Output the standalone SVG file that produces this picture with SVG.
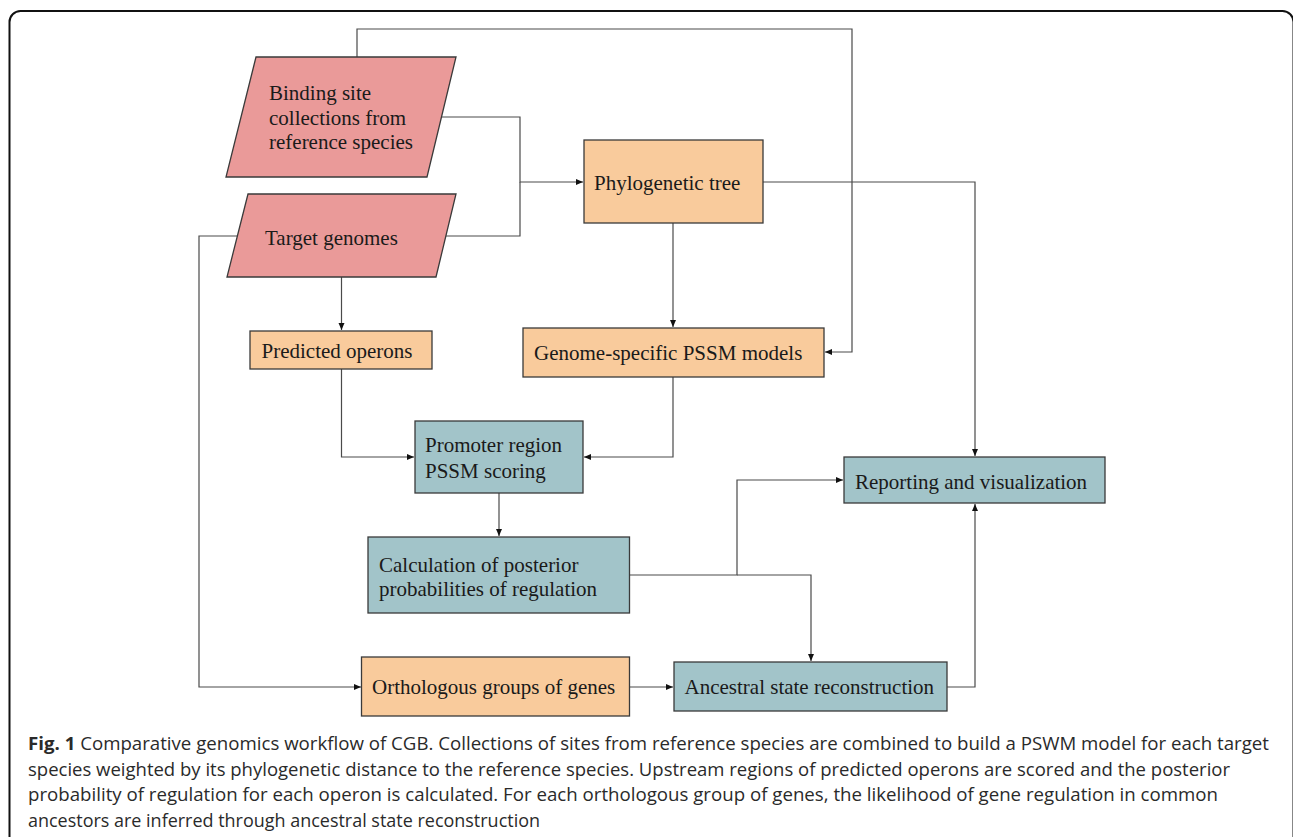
<svg xmlns="http://www.w3.org/2000/svg" width="1293" height="837" viewBox="0 0 1293 837">
<style>
.pink{fill:#EA9A99;stroke:#3a3a3a;stroke-width:1.3}
.orange{fill:#F9CB9C;stroke:#3a3a3a;stroke-width:1.3}
.teal{fill:#A2C4C9;stroke:#3a3a3a;stroke-width:1.3}
.lbl{font-family:"Liberation Serif","Times New Roman",serif;font-size:21px;fill:#1a1a1a}
.conn path{fill:none;stroke:#4a4a4a;stroke-width:1.2}
.cap{font-family:"Open Sans","Noto Sans",sans-serif;font-size:18.5px;fill:#2a2a2a}
</style>
<defs>
<marker id="arr" markerUnits="userSpaceOnUse" markerWidth="8" markerHeight="8" refX="7" refY="3.5" orient="auto">
<path d="M0,0.5 L7,3.5 L0,6.5 Z" fill="#111"/>
</marker>
</defs>
<rect x="0" y="0" width="1293" height="837" fill="#fff"/>
<rect x="9.5" y="11" width="1284" height="900" rx="11" ry="11" fill="none" stroke="#111" stroke-width="2"/>

<g class="conn">
<path d="M357,57 V29 H852 V352 H825" marker-end="url(#arr)"/>
<path d="M441,117 H520 V182 H583" marker-end="url(#arr)"/>
<path d="M446,236 H520 V182"/>
<path d="M763,182 H975 V456" marker-end="url(#arr)"/>
<path d="M673,223 V327" marker-end="url(#arr)"/>
<path d="M237,236 H199 V687 H361" marker-end="url(#arr)"/>
<path d="M341.5,277 V330" marker-end="url(#arr)"/>
<path d="M341.5,369 V457 H414" marker-end="url(#arr)"/>
<path d="M673,377 V457 H584" marker-end="url(#arr)"/>
<path d="M499,493 V536" marker-end="url(#arr)"/>
<path d="M630,575 H737 V480 H843" marker-end="url(#arr)"/>
<path d="M737,575 H811 V661" marker-end="url(#arr)"/>
<path d="M630,687 H673" marker-end="url(#arr)"/>
<path d="M947,687 H975 V504" marker-end="url(#arr)"/>
</g>

<g id="binding">
<polygon class="pink" points="256,57 456,57 427,177 226,177"/>
<text class="lbl" x="269" y="100">Binding site</text>
<text class="lbl" x="269" y="125">collections from</text>
<text class="lbl" x="269" y="149">reference species</text>
</g>
<g id="target">
<polygon class="pink" points="248,194 456,194 436,277 227,277"/>
<text class="lbl" x="265" y="245">Target genomes</text>
</g>
<g id="phylo">
<rect class="orange" x="584" y="140" width="179" height="83"/>
<text class="lbl" x="594" y="190">Phylogenetic tree</text>
</g>
<g id="operons">
<rect class="orange" x="250" y="331" width="182" height="38"/>
<text class="lbl" x="261.5" y="358">Predicted operons</text>
</g>
<g id="pssm">
<rect class="orange" x="523" y="328" width="301" height="49"/>
<text class="lbl" x="534" y="360">Genome-specific PSSM models</text>
</g>
<g id="promoter">
<rect class="teal" x="415" y="421" width="168" height="72"/>
<text class="lbl" x="425" y="452">Promoter region</text>
<text class="lbl" x="425" y="477.5">PSSM scoring</text>
</g>
<g id="report">
<rect class="teal" x="844" y="457" width="261" height="46"/>
<text class="lbl" x="855" y="489">Reporting and visualization</text>
</g>
<g id="calc">
<rect class="teal" x="368" y="537" width="261.5" height="76"/>
<text class="lbl" x="379" y="571.5">Calculation of posterior</text>
<text class="lbl" x="379" y="596">probabilities of regulation</text>
</g>
<g id="ortho">
<rect class="orange" x="361.5" y="657" width="268" height="59"/>
<text class="lbl" x="372" y="694">Orthologous groups of genes</text>
</g>
<g id="ancestral">
<rect class="teal" x="674" y="662" width="273" height="49"/>
<text class="lbl" x="684.5" y="694">Ancestral state reconstruction</text>
</g>

<g id="caption">
<text class="cap" x="28" y="750" textLength="1241" lengthAdjust="spacingAndGlyphs"><tspan font-weight="bold">Fig. 1</tspan> Comparative genomics workflow of CGB. Collections of sites from reference species are combined to build a PSWM model for each target</text>
<text class="cap" x="28" y="775.5" textLength="1202" lengthAdjust="spacingAndGlyphs">species weighted by its phylogenetic distance to the reference species. Upstream regions of predicted operons are scored and the posterior</text>
<text class="cap" x="28" y="801" textLength="1190" lengthAdjust="spacingAndGlyphs">probability of regulation for each operon is calculated. For each orthologous group of genes, the likelihood of gene regulation in common</text>
<text class="cap" x="28" y="826.5" textLength="512" lengthAdjust="spacingAndGlyphs">ancestors are inferred through ancestral state reconstruction</text>
</g>
</svg>
